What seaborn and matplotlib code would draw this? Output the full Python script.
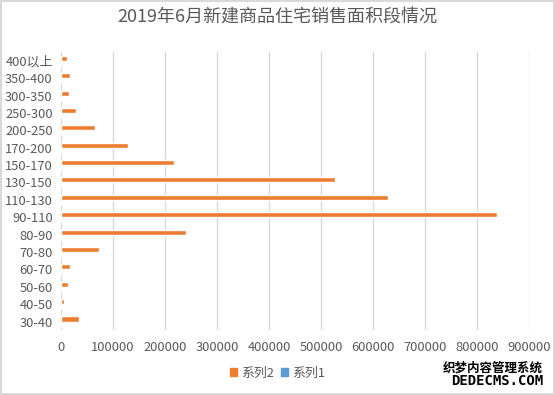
import numpy as np
import pandas as pd
import matplotlib
matplotlib.use("Agg")
import matplotlib.pyplot as plt
import seaborn as sns
from matplotlib.patches import Patch

# 面积段 (从小到大), 图中从下往上排
categories = ["30-40", "40-50", "50-60", "60-70", "70-80", "80-90", "90-110",
              "110-130", "130-150", "150-170", "170-200", "200-250",
              "250-300", "300-350", "350-400", "400以上"]
series2 = [34500, 5800, 13400, 17300, 73500, 240000, 839000,
           628000, 527000, 217500, 129000, 65800,
           29400, 15300, 17300, 11500]
series1 = [0] * len(categories)
xticks = [0, 100000, 200000, 300000, 400000, 500000, 600000, 700000, 800000, 900000]

sns.set_theme(style="white")
plt.rcParams["font.family"] = ["Noto Sans CJK SC", "DejaVu Sans"]

df = pd.DataFrame({
    "cat": categories * 2,
    "val": series2 + series1,
    "series": ["系列2"] * len(categories) + ["系列1"] * len(categories),
})

fig = plt.figure(figsize=(5.55, 3.95), dpi=100)
fig.patch.set_edgecolor("#D9D9D9")
fig.patch.set_linewidth(1.5)
ax = fig.add_axes([0.110, 0.164, 0.843, 0.704])

sns.barplot(data=df, y="cat", x="val", hue="series",
            order=categories[::-1], hue_order=["系列2", "系列1"],
            palette={"系列2": "#ED7D31", "系列1": "#5B9BD5"},
            orient="h", width=0.58, dodge=True, ax=ax, saturation=1, legend=False)

ax.set_xlim(0, 900000)
ax.set_xticks(xticks)
ax.set_xticklabels([str(v) for v in xticks])
ax.set_xlabel("")
ax.set_ylabel("")
ax.grid(axis="x", color="#D9D9D9", linewidth=1)
ax.set_axisbelow(True)
for s in ax.spines.values():
    s.set_visible(False)
ax.tick_params(axis="both", length=0, labelsize=9.3, colors="#595959")
ax.tick_params(axis="x", pad=8)
ax.tick_params(axis="y", pad=6)

fig.suptitle("2019年6月新建商品住宅销售面积段情况", y=0.978,
             fontsize=13, color="#595959")

handles = [Patch(color="#ED7D31", label="系列2"), Patch(color="#5B9BD5", label="系列1")]
fig.legend(handles=handles, loc="center", bbox_to_anchor=(0.5, 0.055), ncol=2,
           frameon=False, fontsize=9.3, labelcolor="#595959",
           handlelength=0.6, handleheight=0.6, handletextpad=0.3, columnspacing=0.5)

# 水印
fig.text(0.978, 0.068, "织梦内容管理系统", ha="right", va="center",
         fontsize=9, fontweight="bold", color="black")
fig.text(0.978, 0.035, "DEDECMS.COM", ha="right", va="center",
         fontsize=10, fontweight="bold", color="black", family="DejaVu Sans Mono")

fig.savefig("out.png", dpi=100, edgecolor=fig.get_edgecolor())
